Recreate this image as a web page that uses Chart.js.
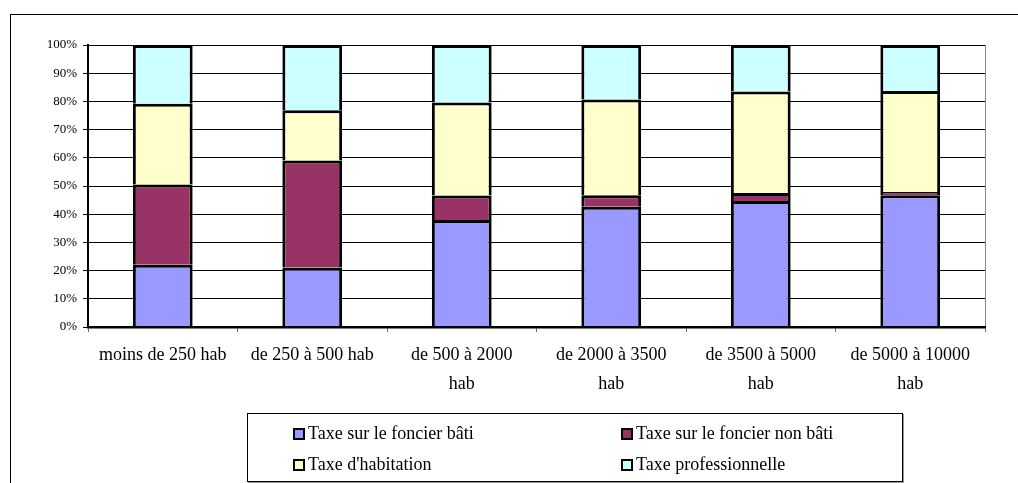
<!DOCTYPE html>
<html lang="fr">
<head>
  <meta charset="UTF-8">
  <title>Répartition des taxes par taille de commune</title>
  <script src="https://cdn.jsdelivr.net/npm/chart.js"></script>
  <style>
    body { margin: 0; background: #fff; font-family: 'Liberation Serif', 'Times New Roman', serif; }
    .cadre { position: absolute; left: 10px; top: 14px; width: 1100px; height: 600px; border: 1px solid #000; }
    .zone { position: absolute; left: 0; top: 0; width: 1018px; height: 483px; }
    .legende {
      position: absolute; left: 247px; top: 413px; width: 654px; height: 67px;
      border: 1px solid #000; box-shadow: 1px 1px 0 #999; background: #fff;
      font-size: 18px; color: #000;
    }
    .item { position: absolute; display: flex; align-items: center; white-space: nowrap; }
    .item span.carre { width: 8px; height: 8px; border: 2px solid #000; margin-right: 3px; }
  </style>
</head>
<body>
  <div class="cadre"></div>
  <div class="zone"><canvas id="graphique" width="1018" height="483"></canvas></div>
  <div class="legende" id="legende"></div>

  <script>
    const categories = [
      'moins de 250 hab',
      'de 250 à 500 hab',
      ['de 500 à 2000', 'hab'],
      ['de 2000 à 3500', 'hab'],
      ['de 3500 à 5000', 'hab'],
      ['de 5000 à 10000', 'hab']
    ];

    // parts en %
    const foncierBati    = [22.1, 21.1, 37.9, 42.6, 44.7, 46.7];
    const foncierNonBati = [28.4, 37.9,  8.7,  4.1,  2.8,  1.2];
    const habitation     = [28.7, 17.9, 33.0, 34.0, 36.0, 35.8];
    const professionnelle = [20.8, 23.1, 20.4, 19.3, 16.5, 16.3];

    const series = [
      { label: 'Taxe sur le foncier bâti', data: foncierBati, color: '#9999FF' },
      { label: 'Taxe sur le foncier non bâti', data: foncierNonBati, color: '#993366' },
      { label: "Taxe d'habitation", data: habitation, color: '#FFFFCC' },
      { label: 'Taxe professionnelle', data: professionnelle, color: '#CCFFFF' }
    ];

    const police = "'Liberation Serif', 'Times New Roman', serif";

    // bord droit gris de la zone de tracé
    const bordure = {
      id: 'bordure',
      beforeDatasetsDraw(chart) {
        const { ctx, chartArea: a } = chart;
        ctx.save();
        ctx.strokeStyle = '#888';
        ctx.lineWidth = 1;
        ctx.beginPath();
        ctx.moveTo(a.right + 0.5, a.top);
        ctx.lineTo(a.right + 0.5, a.bottom);
        ctx.stroke();
        ctx.restore();
      }
    };

    new Chart(document.getElementById('graphique'), {
      type: 'bar',
      data: {
        labels: categories,
        datasets: series.map(s => ({
          label: s.label,
          data: s.data,
          backgroundColor: s.color,
          borderColor: '#000',
          borderWidth: 3,
          borderSkipped: 'start',
          barPercentage: 0.4,
          categoryPercentage: 1
        }))
      },
      options: {
        responsive: false,
        animation: false,
        layout: { padding: { left: 0, top: 45, right: 33, bottom: 0 } },
        plugins: {
          legend: { display: false },
          tooltip: { enabled: false }
        },
        scales: {
          x: {
            stacked: true,
            afterFit(scale) { scale.height = 156; },
            border: { color: '#000', width: 2.5, z: 1 },
            grid: { offset: true, drawOnChartArea: false, tickLength: 5, color: '#666' },
            ticks: {
              color: '#000',
              padding: 8,
              maxRotation: 0,
              autoSkip: false,
              font: { family: police, size: 18, lineHeight: 1.65 }
            }
          },
          y: {
            stacked: true,
            min: 0,
            max: 100,
            afterFit(scale) { scale.width = 88; },
            border: { color: '#000', width: 2 },
            grid: { color: '#000', lineWidth: 1, tickLength: 5 },
            ticks: {
              stepSize: 10,
              color: '#000',
              padding: 6,
              font: { family: police, size: 13 },
              callback: v => v + '%'
            }
          }
        }
      },
      plugins: [bordure]
    });

    // légende en deux colonnes, encadrée
    const positions = [[45, 9], [373, 9], [45, 40], [373, 40]];
    const legende = document.getElementById('legende');
    series.forEach((s, i) => {
      const el = document.createElement('div');
      el.className = 'item';
      el.style.left = positions[i][0] + 'px';
      el.style.top = positions[i][1] + 'px';
      el.innerHTML = '<span class="carre" style="background:' + s.color + '"></span>' + s.label;
      legende.appendChild(el);
    });
  </script>
</body>
</html>
